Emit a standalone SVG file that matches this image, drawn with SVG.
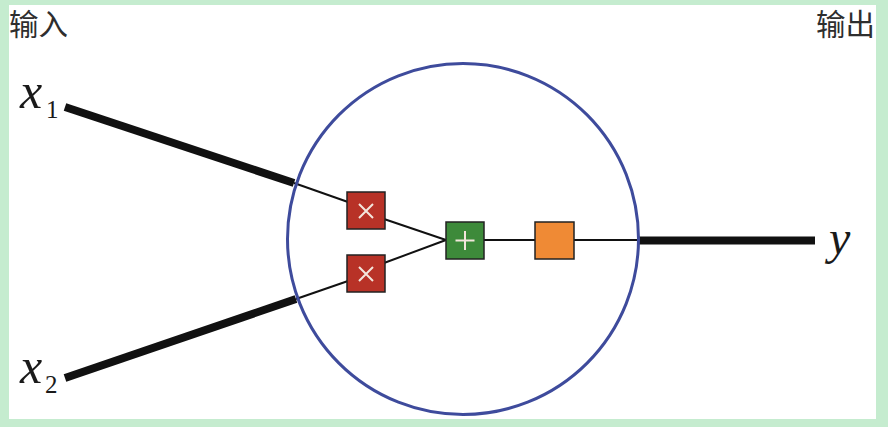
<svg xmlns="http://www.w3.org/2000/svg" width="888" height="427" viewBox="0 0 888 427">
  <defs>
    <style>
      .cjk { font-family: "Noto Sans CJK SC", "Noto Sans", sans-serif; font-size: 29.5px; fill: #2e2e2e; }
      .math { font-family: "Liberation Serif", "Times New Roman", serif; fill: #1a1a1a; }
      .thick { stroke: #111; stroke-width: 8; fill: none; }
      .thin { stroke: #111; stroke-width: 2; fill: none; }
      .box { stroke: #222; stroke-width: 1.5; }
      .sym { stroke: #f3e6dc; stroke-width: 2; fill: none; }
    </style>
  </defs>
  <rect x="0" y="0" width="888" height="427" fill="#c5eccf"/>
  <rect x="9" y="5" width="867" height="414" fill="#ffffff"/>

  <g id="labels">
    <text class="cjk" x="9" y="34.5">输入</text>
    <text class="cjk" x="875" y="34.5" text-anchor="end">输出</text>
  </g>

  <g id="connectors">
    <line class="thick" x1="65" y1="107" x2="294" y2="183"/>
    <line class="thin" x1="294" y1="183" x2="348" y2="202"/>
    <line class="thick" x1="65" y1="378" x2="296" y2="299"/>
    <line class="thin" x1="296" y1="299" x2="348" y2="281"/>
    <line class="thin" x1="384" y1="219" x2="446" y2="240"/>
    <line class="thin" x1="384" y1="263" x2="446" y2="240"/>
    <line class="thin" x1="484" y1="240" x2="535" y2="240"/>
    <line class="thin" x1="574" y1="240" x2="639" y2="240"/>
    <line class="thick" x1="639" y1="240.5" x2="815" y2="240.5"/>
  </g>

  <g id="neuron">
    <circle cx="463" cy="239" r="175.5" fill="none" stroke="#3e4b9c" stroke-width="3"/>
  </g>

  <g id="mul1">
    <rect class="box" x="347" y="192" width="38" height="37" fill="#b83227"/>
    <path class="sym" d="M359 204 L373 218 M373 204 L359 218"/>
  </g>
  <g id="mul2">
    <rect class="box" x="347" y="255" width="38" height="37" fill="#b83227"/>
    <path class="sym" d="M359 267 L373 281 M373 267 L359 281"/>
  </g>
  <g id="sum">
    <rect class="box" x="446" y="222" width="38" height="37" fill="#3d8a3a"/>
    <path class="sym" d="M465 231 L465 250 M455.5 240.5 L474.5 240.5"/>
  </g>
  <g id="activation">
    <rect class="box" x="535" y="222" width="39" height="37" fill="#ef8a35"/>
  </g>

  <g id="x1">
    <text class="math" x="20" y="108" font-style="italic" font-size="50">x</text>
    <text class="math" x="46" y="118" font-size="25">1</text>
  </g>
  <g id="x2">
    <text class="math" x="20" y="383" font-style="italic" font-size="50">x</text>
    <text class="math" x="45" y="393" font-size="25">2</text>
  </g>
  <g id="y">
    <text class="math" x="829" y="254" font-style="italic" font-size="48">y</text>
  </g>
</svg>
